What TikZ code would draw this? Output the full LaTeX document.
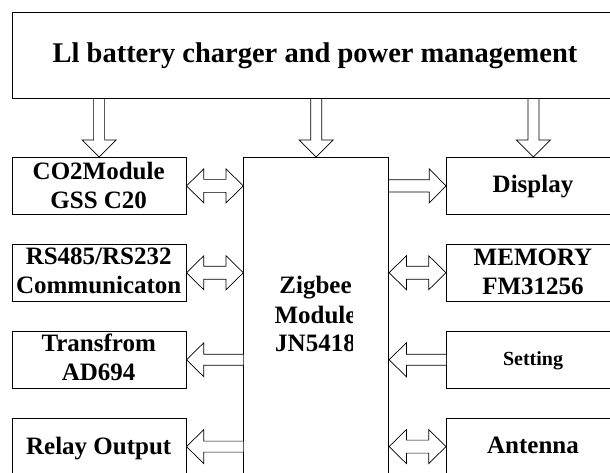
\documentclass[tikz,border=0pt]{standalone}
\usepackage{fontspec}
\setmainfont{Liberation Serif}
\usetikzlibrary{calc}
\tikzset{
  box/.style={draw=black, line width=0.8pt, rectangle, inner sep=0pt, anchor=north west},
  arr/.style={draw=black, line width=0.7pt, fill=white, line join=miter},
  lbl/.style={anchor=base, inner sep=0pt, font=\bfseries\fontsize{25}{29}\selectfont},
  toplbl/.style={anchor=base, inner sep=0pt, font=\bfseries\fontsize{28.5}{32}\selectfont},
  smalllbl/.style={anchor=base, inner sep=0pt, font=\bfseries\fontsize{20}{24}\selectfont},
}
% vertical down block arrow from bottom of #1 to top of #2
\newcommand\downblk[2]{%
  \draw[arr] let \p1=(#1.south), \p2=(#2.north) in
    (\x2-5.5pt,\y1) -- (\x2-5.5pt,\y2+17pt) -- (\x2-17pt,\y2+17pt) -- (\x2,\y2)
    -- (\x2+17pt,\y2+17pt) -- (\x2+5.5pt,\y2+17pt) -- (\x2+5.5pt,\y1);}
% double block arrow between east of #1 and west of #2 at height of #3
\newcommand\dblblk[3]{%
  \draw[arr] let \p1=(#1.east), \p2=(#2.west), \p3=(#3) in
    (\x1,\y3) -- (\x1+17.3pt,\y3+17pt) -- (\x1+17.3pt,\y3+6.5pt) -- (\x2-17.3pt,\y3+6.5pt)
    -- (\x2-17.3pt,\y3+17pt) -- (\x2,\y3) -- (\x2-17.3pt,\y3-17pt) -- (\x2-17.3pt,\y3-6.5pt)
    -- (\x1+17.3pt,\y3-6.5pt) -- (\x1+17.3pt,\y3-17pt) -- cycle;}
% single block arrow pointing left: tip at east of #1, tail at west of #2, height of #3
\newcommand\leftblk[3]{%
  \draw[arr] let \p1=(#1.east), \p2=(#2.west), \p3=(#3) in
    (\x2,\y3+5.5pt) -- (\x1+17.3pt,\y3+5.5pt) -- (\x1+17.3pt,\y3+17pt) -- (\x1,\y3)
    -- (\x1+17.3pt,\y3-17pt) -- (\x1+17.3pt,\y3-5.5pt) -- (\x2,\y3-5.5pt);}
% single block arrow pointing right: tail at east of #1, tip at west of #2, height of #3
\newcommand\rightblk[3]{%
  \draw[arr] let \p1=(#1.east), \p2=(#2.west), \p3=(#3) in
    (\x1,\y3+6.2pt) -- (\x2-16.7pt,\y3+6.2pt) -- (\x2-16.7pt,\y3+17pt) -- (\x2,\y3)
    -- (\x2-16.7pt,\y3-17pt) -- (\x2-16.7pt,\y3-6.2pt) -- (\x1,\y3-6.2pt);}
\begin{document}
\begin{tikzpicture}[x=1pt,y=-1pt]
\useasboundingbox (0,0) rectangle (610,473);
\fill[white] (0,0) rectangle (610,473);
\clip (0,0) rectangle (610,473);
% boxes
\node[box, minimum width=608.3pt, minimum height=86pt] (top) at (11.7,12.3) {};
\node[box, minimum width=174pt, minimum height=57pt] (co2) at (11.7,157) {};
\node[box, minimum width=174pt, minimum height=56.7pt] (rs) at (11.7,244) {};
\node[box, minimum width=174pt, minimum height=57.3pt] (tr) at (11.7,330.7) {};
\node[box, minimum width=174pt, minimum height=57pt] (relay) at (11.7,417.7) {};
\node[box, minimum width=145pt, minimum height=330pt] (zig) at (243.3,157) {};
\node[box, minimum width=174pt, minimum height=57pt] (disp) at (446,157) {};
\node[box, minimum width=174pt, minimum height=56.7pt] (mem) at (446,244) {};
\node[box, minimum width=174pt, minimum height=57.3pt] (set) at (446,330.7) {};
\node[box, minimum width=174pt, minimum height=57pt] (ant) at (446,417.7) {};
% texts
\node[toplbl] (ttop) at (315,63) {Ll battery charger and power management};
\node[lbl] (t1a) at (98.7,179.3) {CO2Module};
\node[lbl] (t1b) at (98.7,208.3) {GSS C20};
\node[lbl] (t2a) at (98.7,264) {RS485/RS232};
\node[lbl] (t2b) at (98.7,293.3) {Communicaton};
\node[lbl] (t3a) at (98.7,351.7) {Transfrom};
\node[lbl] (t3b) at (98.7,380) {AD694};
\node[lbl] (t4) at (98.7,454) {Relay Output};
\node[lbl] (t5) at (533,192.7) {Display};
\node[lbl] (t6a) at (533,265) {MEMORY};
\node[lbl] (t6b) at (533,294) {FM31256};
\node[smalllbl] (t7) at (533,365) {Setting};
\node[lbl] (t8) at (533,453) {Antenna};
\begin{scope}
\clip (240,250) rectangle (352.5,370);
\node[lbl] (z1) at (315.5,293.3) {Zigbee};
\node[lbl] (z2) at (315.5,323.3) {Module};
\node[lbl] (z3) at (315.5,351.7) {JN5418};
\end{scope}
% arrows
\downblk{top}{co2}
\downblk{top}{zig}
\downblk{top}{disp}
\dblblk{co2}{zig}{co2.center}
\dblblk{rs}{zig}{rs.center}
\leftblk{tr}{zig}{tr.center}
\leftblk{relay}{zig}{relay.center}
\rightblk{zig}{disp}{disp.center}
\dblblk{zig}{mem}{mem.center}
\leftblk{zig}{set}{set.center}
\dblblk{zig}{ant}{ant.center}
\end{tikzpicture}
\end{document}
